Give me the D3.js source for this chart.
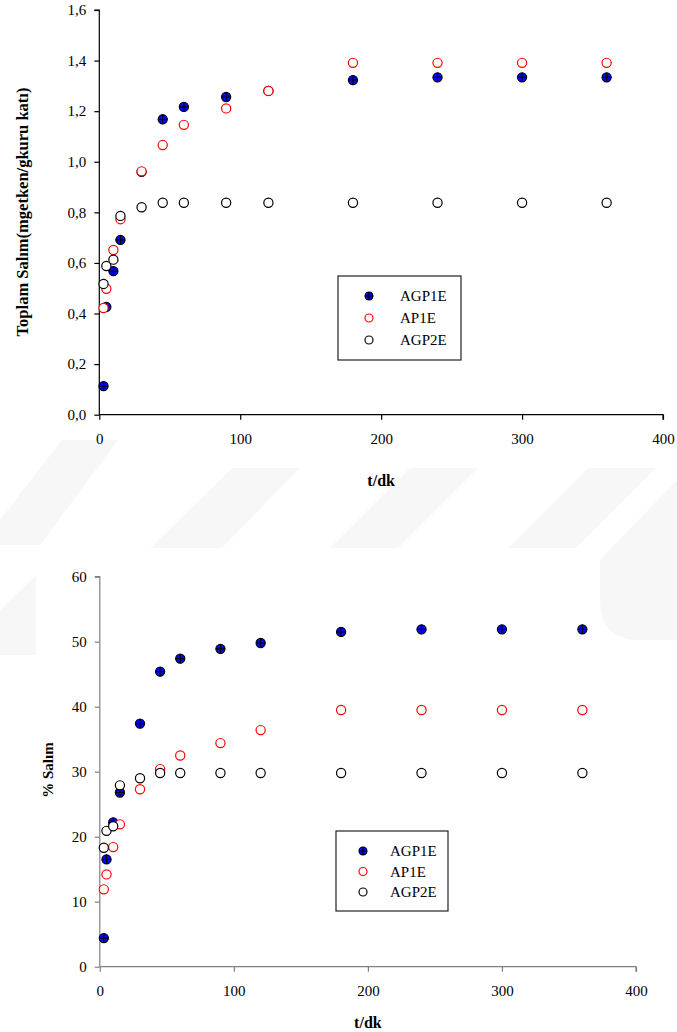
<!DOCTYPE html>
<html>
<head>
<meta charset="utf-8">
<script src="https://cdn.jsdelivr.net/npm/d3@7/dist/d3.min.js"></script>
<style>
  html, body { margin: 0; padding: 0; background: #fff; }
  svg { display: block; }
  text { font-family: "Liberation Serif", "Times New Roman", serif; }
</style>
</head>
<body>
<svg id="fig" width="677" height="1032"></svg>
<script>
// Sampling times (minutes)
const times = [3, 5, 10, 15, 30, 45, 60, 90, 120, 180, 240, 300, 360];

// Cumulative release (mg etken / g kuru katı)
const totalAGP1E = [0.113, 0.426, 0.568, 0.691, 0.96, 1.168, 1.217, 1.256, 1.28, 1.323, 1.334, 1.334, 1.334];
const totalAP1E  = [0.422, 0.498, 0.651, 0.773, 0.962, 1.066, 1.146, 1.211, 1.28, 1.391, 1.391, 1.391, 1.391];
const totalAGP2E = [0.517, 0.588, 0.613, 0.786, 0.82, 0.838, 0.838, 0.838, 0.838, 0.838, 0.838, 0.838, 0.838];

// Percentage release
const pctAGP1E = [4.4, 16.5, 22.2, 26.8, 37.4, 45.4, 47.4, 48.9, 49.8, 51.5, 51.9, 51.9, 51.9];
const pctAP1E  = [11.9, 14.2, 18.4, 21.9, 27.3, 30.4, 32.5, 34.4, 36.4, 39.5, 39.5, 39.5, 39.5];
const pctAGP2E = [18.3, 20.9, 21.6, 27.9, 29.0, 29.8, 29.8, 29.8, 29.8, 29.8, 29.8, 29.8, 29.8];

const seriesNames = ["AGP1E", "AP1E", "AGP2E"];
const xTicks = [0, 100, 200, 300, 400];
const yTicksTotal = [0, 0.2, 0.4, 0.6, 0.8, 1.0, 1.2, 1.4, 1.6];
const yTicksPct = [0, 10, 20, 30, 40, 50, 60];
const xTitle = "t/dk";
const yTitleTotal = "Toplam Salım(mgetken/gkuru katı)";
const yTitlePct = "% Salım";

const svg = d3.select("#fig");
const trFmt = d3.formatLocale({ decimal: ",", thousands: ".", grouping: [3], currency: ["", " TL"] }).format(".1f");

// faint background emblem
const wm = svg.append("g").attr("fill", "#f7f7f7");
[
  "M0,545 L0,520 L62,440 L118,440 L40,545 Z",
  "M150,548 L232,468 L300,468 L222,548 Z",
  "M330,548 L410,468 L478,468 L398,548 Z",
  "M508,548 L588,468 L656,468 L576,548 Z",
  "M600,560 L677,480 L677,640 L640,640 Q600,640 600,600 Z",
  "M0,655 L0,610 L36,575 L36,655 Z"
].forEach(d => wm.append("path").attr("d", d));

function marker(g, kind, x, y, r) {
  if (kind === 0) {
    g.append("circle").attr("cx", x).attr("cy", y).attr("r", r)
      .attr("fill", "#0000ff").attr("stroke", "#000").attr("stroke-width", 1.1);
    g.append("path")
      .attr("d", `M${x - r},${y}H${x + r}M${x},${y - r}V${y + r}`)
      .attr("stroke", "#000").attr("stroke-width", 1.1);
  } else {
    g.append("circle").attr("cx", x).attr("cy", y).attr("r", r)
      .attr("fill", "#fff")
      .attr("stroke", kind === 1 ? "#ff0000" : "#000")
      .attr("stroke-width", 1.2);
  }
}

function drawPanel(opt) {
  const g = svg.append("g");
  const x = d3.scaleLinear().domain([0, 400]).range(opt.xr);
  const y = d3.scaleLinear().domain(opt.yd).range(opt.yr);

  // y axis
  const ya = g.append("g").attr("transform", `translate(${opt.xr[0]},0)`)
    .call(d3.axisLeft(y).tickValues(opt.yTicks).tickSize(5).tickPadding(8).tickFormat(opt.yFmt));
  // x axis
  const xa = g.append("g").attr("transform", `translate(0,${opt.yr[0]})`)
    .call(d3.axisBottom(x).tickValues(xTicks).tickSize(5).tickPadding(14).tickFormat(d3.format("d")));
  [ya, xa].forEach(a => {
    a.select(".domain").attr("stroke", opt.axisColor).attr("stroke-width", 1.2);
    a.selectAll(".tick line").attr("stroke", opt.axisColor).attr("stroke-width", 1.2);
    a.selectAll("text").attr("fill", "#000").style("font-size", "15px")
      .style("font-family", "'Liberation Serif', serif");
  });
  ya.select(".domain").attr("d", `M-5,${opt.yr[1]}H0V${opt.yr[0]}`);
  xa.select(".domain").attr("d", `M${opt.xr[0]},0H${opt.xr[1]}V5`);

  // titles
  g.append("text").attr("x", (opt.xr[0] + opt.xr[1]) / 2).attr("y", opt.xTitleY)
    .attr("text-anchor", "middle").style("font-size", "16px").style("font-weight", "bold")
    .text(xTitle);
  g.append("text")
    .attr("transform", `translate(${opt.yTitleX},${opt.yTitleY}) rotate(-90)`)
    .attr("text-anchor", "middle").style("font-size", opt.yTitleSize).style("font-weight", "bold")
    .text(opt.yTitle);

  // points: filled series first, open circles on top
  const pts = g.append("g");
  opt.series.forEach((vals, k) => {
    vals.forEach((v, i) => marker(pts, k, x(times[i]), y(v), opt.r));
  });

  // legend
  const L = opt.legend;
  const lg = g.append("g");
  lg.append("rect").attr("x", L.x).attr("y", L.y).attr("width", L.w).attr("height", L.h)
    .attr("fill", "#fff").attr("stroke", "#222").attr("stroke-width", 1.2);
  seriesNames.forEach((name, k) => {
    const cy = L.y + L.first + k * L.step;
    marker(lg, k, L.x + L.mx, cy, 4);
    lg.append("text").attr("x", L.x + L.tx).attr("y", cy + 5)
      .style("font-size", "15px").text(name);
  });
}

drawPanel({
  xr: [99.3, 663], yr: [414.7, 10], yd: [0, 1.6],
  yTicks: yTicksTotal, yFmt: trFmt, axisColor: "#000",
  xTitleY: 486, yTitle: yTitleTotal, yTitleX: 28, yTitleY: 212, yTitleSize: "16.5px",
  series: [totalAGP1E, totalAP1E, totalAGP2E], r: 4.6,
  legend: { x: 338, y: 276, w: 123, h: 84, mx: 31, tx: 62, first: 20, step: 22 }
});

drawPanel({
  xr: [99.8, 636], yr: [966.7, 576.7], yd: [0, 60],
  yTicks: yTicksPct, yFmt: d3.format("d"), axisColor: "#808080",
  xTitleY: 1028, yTitle: yTitlePct, yTitleX: 53, yTitleY: 770, yTitleSize: "15px",
  series: [pctAGP1E, pctAP1E, pctAGP2E], r: 4.6,
  legend: { x: 336, y: 831, w: 112, h: 80, mx: 27, tx: 54, first: 20, step: 20.5 }
});
</script>
</body>
</html>
